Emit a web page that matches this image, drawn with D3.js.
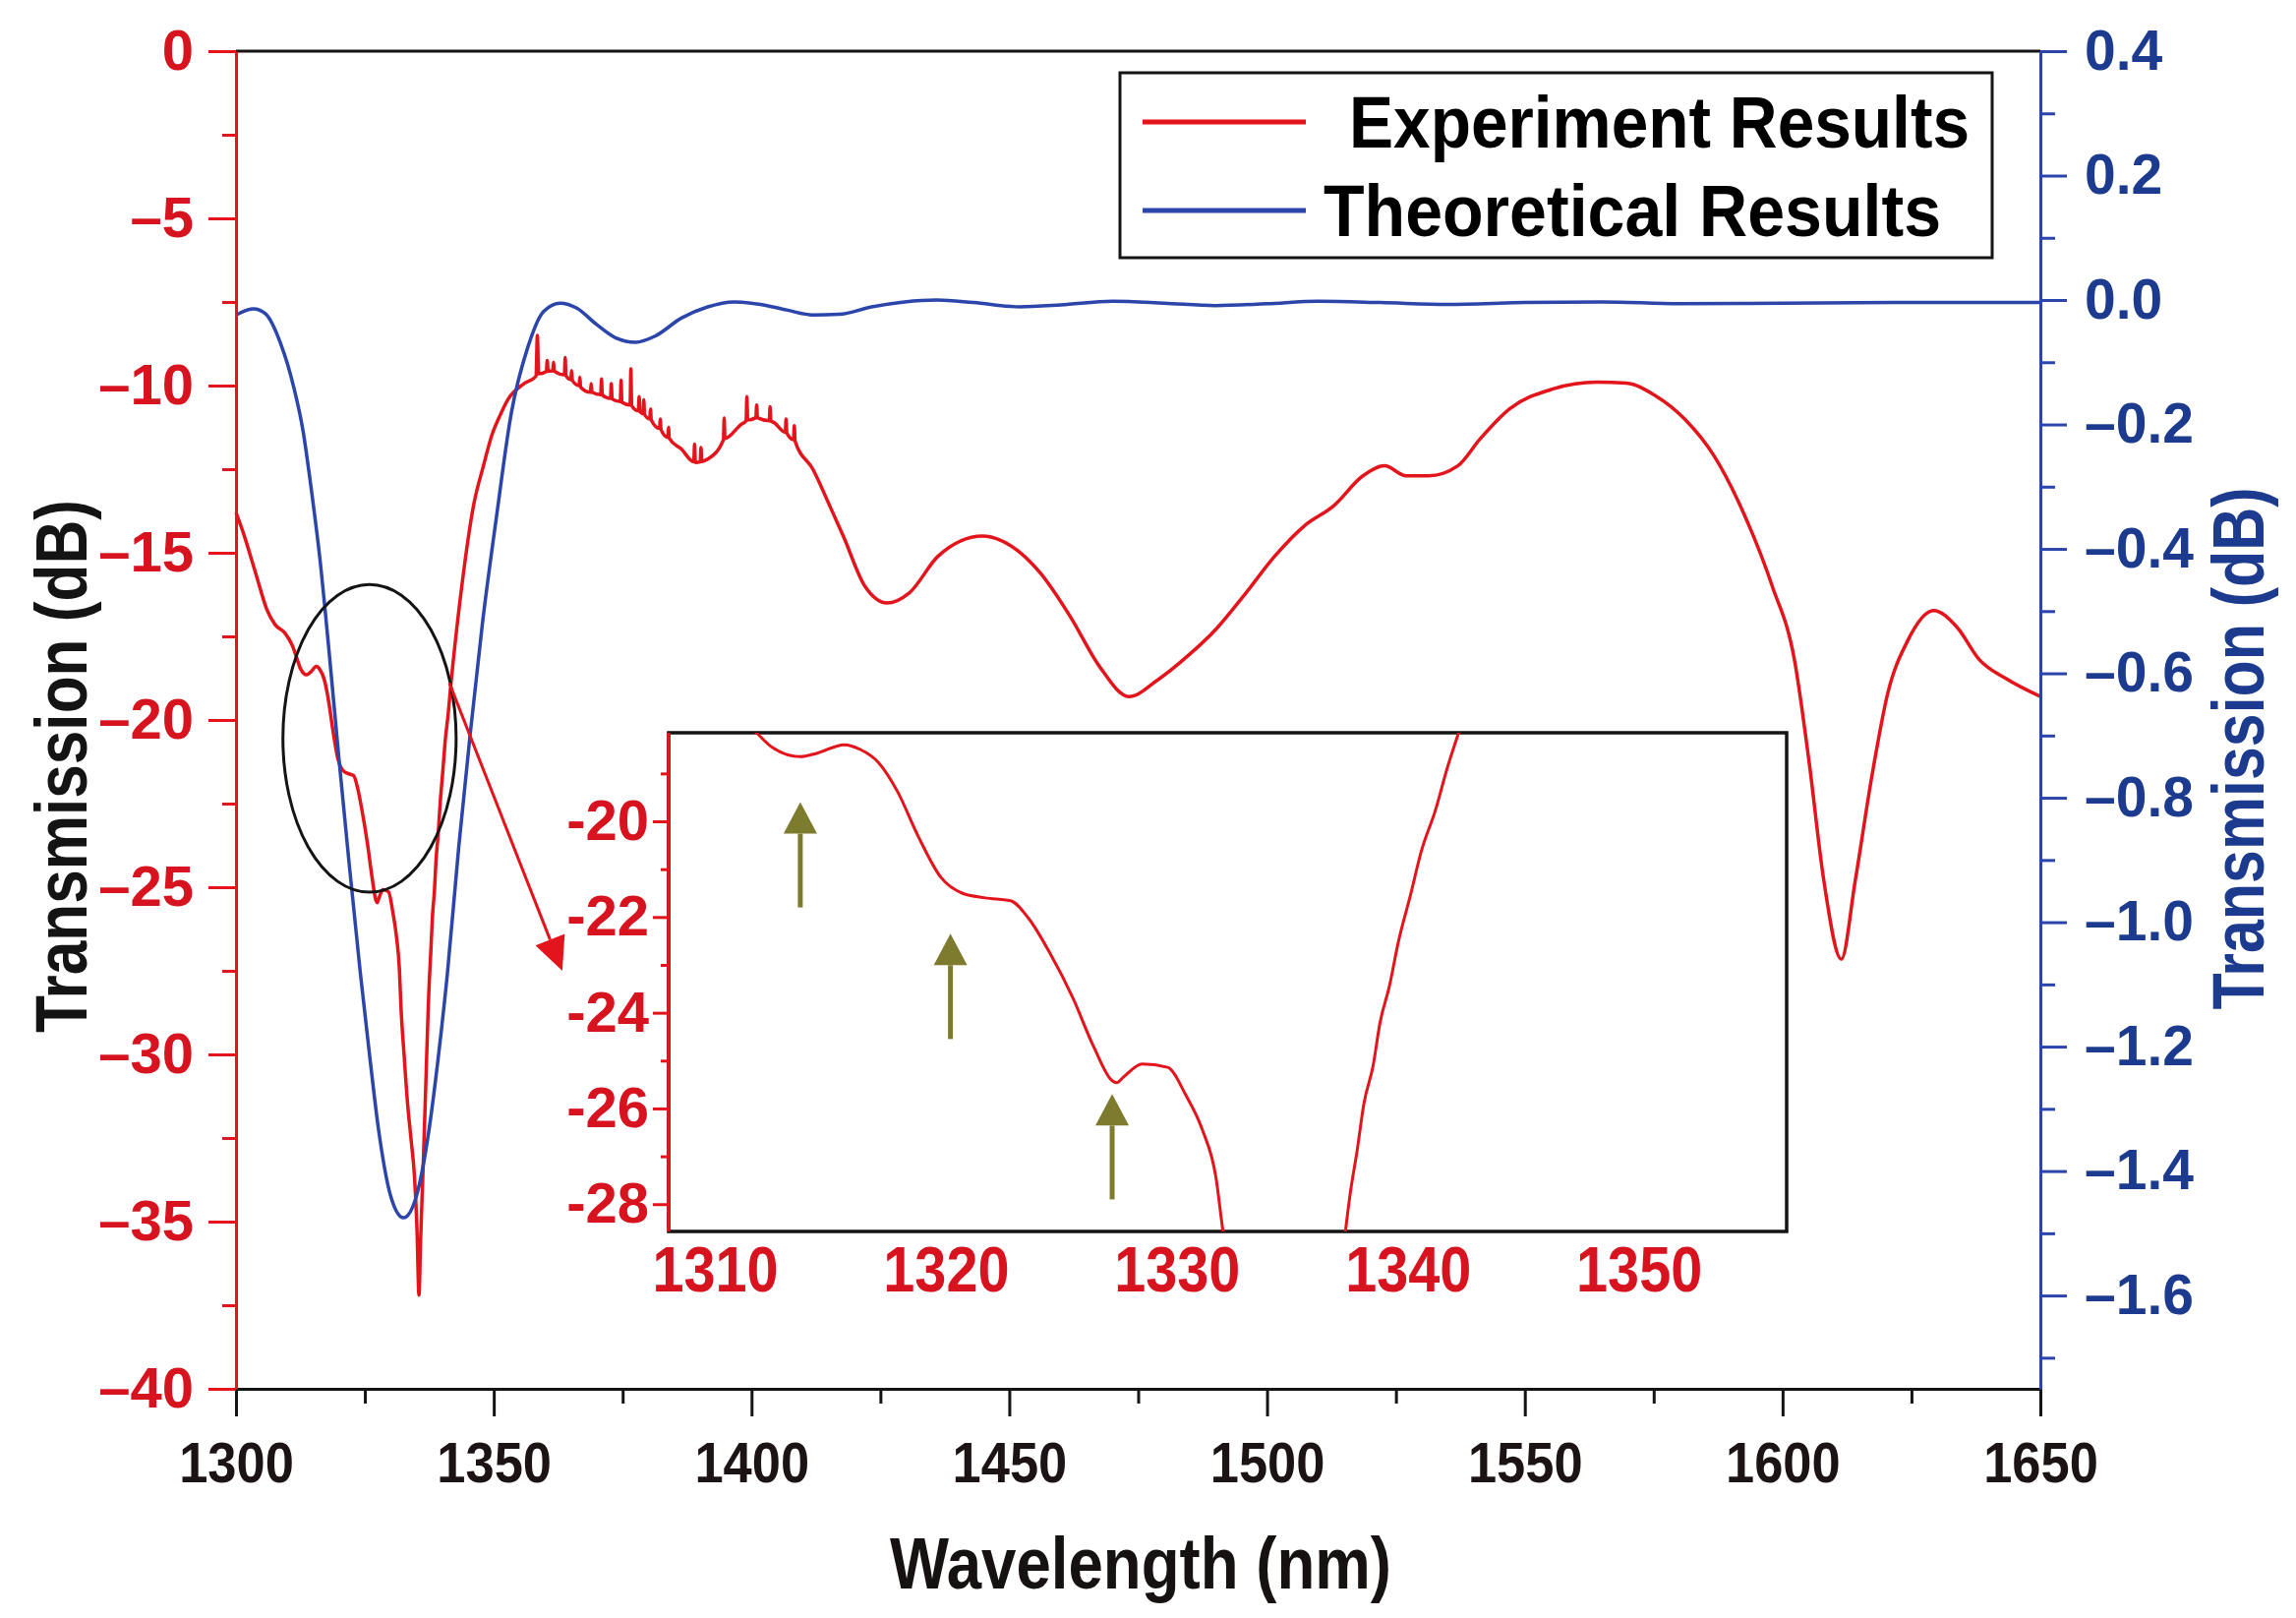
<!DOCTYPE html>
<html>
<head>
<meta charset="utf-8">
<script src="https://cdn.jsdelivr.net/npm/d3@7"></script>
<style>
  html, body { margin: 0; padding: 0; background: #fff; }
  svg text { font-family: 'Liberation Sans', Arial, Helvetica, sans-serif; font-weight: bold; }
</style>
</head>
<body>
<div id="chart"></div>
<script>
// experiment (red, left axis)
const expWavelength = [1300, 1301.3, 1303.8, 1306.0, 1307.6, 1309.5, 1311.0, 1311.8, 1312.5, 1313.7,
  1314.4, 1315.6, 1316.3, 1317.1, 1317.9, 1318.8, 1319.8, 1320.7, 1321.7, 1322.8,
  1323.6, 1324.5, 1325.5, 1326.4, 1327.2, 1327.4, 1327.7, 1328.5, 1329.6, 1330.4,
  1331.1, 1331.7, 1332.0, 1332.6, 1333.3, 1334.0, 1334.6, 1335.1, 1335.5, 1335.8,
  1336.3, 1336.8, 1337.3, 1337.5, 1337.8, 1338.1, 1338.5, 1338.8, 1339.2, 1339.6,
  1340.1, 1340.6, 1341.2, 1341.7, 1342.2, 1343.8, 1346.1, 1348.0, 1349.6, 1351.2,
  1352.7, 1355.9, 1358.2, 1358.46, 1358.7, 1360.2, 1360.37, 1360.55, 1361.45, 1361.6,
  1361.75, 1363.7, 1363.86, 1364.0, 1364.95, 1365.1, 1365.25, 1366.55, 1366.7, 1366.85,
  1368.75, 1368.9, 1369.05, 1370.75, 1370.9, 1371.05, 1372.65, 1372.8, 1372.95, 1374.55,
  1374.7, 1374.85, 1376.45, 1376.6, 1376.75, 1378.05, 1378.2, 1378.35, 1378.95, 1379.1,
  1379.25, 1380.25, 1380.4, 1380.55, 1382.15, 1382.3, 1382.45, 1383.75, 1383.9, 1384.05,
  1386.4, 1388.8, 1388.96, 1389.1, 1390.05, 1390.2, 1390.35, 1391.5, 1394.55, 1394.7,
  1394.85, 1397.9, 1398.95, 1399.1, 1399.25, 1400.85, 1401.0, 1401.15, 1403.45, 1403.6,
  1403.75, 1404.3, 1406.55, 1406.7, 1406.85, 1408.15, 1408.3, 1408.45, 1411.9, 1415.1,
  1417.8, 1422.0, 1426.3, 1430.6, 1436.2, 1444.8, 1450.4, 1456.0, 1461.8, 1467.5,
  1473.2, 1478.8, 1484.5, 1490.0, 1495.9, 1501.5, 1507.2, 1512.9, 1518.6, 1522.8,
  1527.0, 1531.3, 1537.0, 1541.3, 1547.0, 1555.5, 1564.0, 1569.7, 1575.3, 1581.0,
  1586.7, 1592.4, 1598.0, 1602.3, 1605.1, 1608.0, 1611.4, 1614.1, 1617.3, 1620.4,
  1624.2, 1629.3, 1633.8, 1638.2, 1643.3, 1650.0]
const expTransmission = [-13.8, -14.35, -15.6, -16.7, -17.15, -17.4, -17.8, -18.15, -18.46, -18.65,
  -18.58, -18.4, -18.5, -18.78, -19.37, -20.31, -21.18, -21.5, -21.6, -21.66,
  -22.04, -22.75, -23.69, -24.71, -25.42, -25.46, -25.34, -25.07, -25.14, -25.73,
  -26.44, -27.46, -28.57, -30.0, -31.5, -32.6, -33.6, -35.2, -37.2, -35.6,
  -33.4, -31.0, -28.57, -27.8, -26.9, -25.9, -25.1, -24.2, -23.45, -22.5,
  -21.57, -20.6, -19.76, -18.9, -18.15, -16.0, -13.57, -12.4, -11.5, -10.9,
  -10.43, -9.94, -9.72, -8.5, -9.65, -9.58, -9.25, -9.57, -9.56, -9.3,
  -9.57, -9.68, -9.16, -9.7, -9.82, -9.55, -9.85, -10.0, -9.75, -10.05,
  -10.2, -9.94, -10.2, -10.27, -9.8, -10.28, -10.38, -9.94, -10.4, -10.48,
  -9.84, -10.5, -10.58, -9.5, -10.6, -10.76, -10.33, -10.78, -10.84, -10.43,
  -10.86, -11.0, -10.7, -11.03, -11.28, -11.0, -11.32, -11.55, -11.25, -11.58,
  -11.9, -12.28, -11.75, -12.3, -12.28, -11.85, -12.27, -12.2, -11.62, -10.97,
  -11.58, -11.17, -11.05, -10.33, -11.03, -10.96, -10.58, -10.96, -11.05, -10.63,
  -11.06, -11.1, -11.4, -11.0, -11.42, -11.62, -11.2, -11.66, -12.5, -13.57,
  -14.5, -16.0, -16.5, -16.2, -15.1, -14.5, -14.8, -15.6, -16.9, -18.4,
  -19.3, -18.8, -18.1, -17.3, -16.2, -15.1, -14.2, -13.6, -12.7, -12.4,
  -12.7, -12.7, -12.4, -11.6, -10.7, -10.1, -9.9, -9.93, -10.3, -11.0,
  -12.1, -13.8, -16.0, -18.2, -21.2, -24.8, -27.15, -24.8, -21.7, -19.2,
  -17.65, -16.73, -17.22, -18.2, -18.76, -19.3]

// theory (blue, right axis)
const theoWavelength = [1300, 1303.4, 1305.7, 1308.7, 1311.2, 1313.0, 1314.7, 1316.2, 1318.0, 1320.0,
  1322.0, 1324.1, 1326.0, 1327.7, 1330.0, 1332.5, 1335.0, 1337.4, 1339.2, 1341.0,
  1343.2, 1345.4, 1347.8, 1350.5, 1353.4, 1356.6, 1359.7, 1362.9, 1366.1, 1369.9,
  1373.7, 1377.5, 1381.3, 1386.4, 1391.5, 1396.6, 1401.7, 1406.8, 1411.9, 1417.0,
  1423.3, 1429.7, 1436.0, 1443.0, 1452.0, 1460.0, 1470.0, 1480.0, 1490.0, 1500.0,
  1510.0, 1522.0, 1535.0, 1550.0, 1565.0, 1580.0, 1600.0, 1625.0, 1650.0]
const theoTransmission = [-0.024, -0.014, -0.022, -0.071, -0.14, -0.21, -0.31, -0.41, -0.56, -0.74,
  -0.91, -1.08, -1.22, -1.336, -1.44, -1.475, -1.44, -1.336, -1.22, -1.083,
  -0.88, -0.70, -0.52, -0.35, -0.182, -0.076, -0.018, -0.005, -0.013, -0.039,
  -0.061, -0.068, -0.058, -0.029, -0.011, -0.003, -0.007, -0.016, -0.024, -0.023,
  -0.011, -0.003, 0.0, -0.004, -0.011, -0.008, -0.002, -0.005, -0.009, -0.006,
  -0.002, -0.004, -0.007, -0.004, -0.003, -0.006, -0.005, -0.004, -0.004]

const xTicks = [1300, 1350, 1400, 1450, 1500, 1550, 1600, 1650]
const xMinorTicks = [1325, 1375, 1425, 1475, 1525, 1575, 1625]
const leftTicks = [0, -5, -10, -15, -20, -25, -30, -35, -40]
const leftMinorTicks = [-2.5, -7.5, -12.5, -17.5, -22.5, -27.5, -32.5, -37.5]
const rightTicks = [0.4, 0.2, 0.0, -0.2, -0.4, -0.6, -0.8, -1.0, -1.2, -1.4, -1.6]
const rightMinorTicks = [0.3, 0.1, -0.1, -0.3, -0.5, -0.7, -0.9, -1.1, -1.3, -1.5, -1.7]
const insetXTicks = [1310, 1320, 1330, 1340, 1350]
const insetYTicks = [-20, -22, -24, -26, -28]
const insetYMinorTicks = [-19, -21, -23, -25, -27]
const legendLabels = ['Experiment Results', 'Theoretical Results']

// olive arrows in the inset
const arrowWavelength = [1313.7, 1320.2, 1327.2]
const arrowTip = [-19.6, -22.35, -25.7]
const arrowTail = [-21.8, -24.55, -27.9]

const W = 2335
const H = 1645
const plot = {left: 240, right: 2075, top: 52, bottom: 1412}
const box = {left: 680, right: 1817, top: 745, bottom: 1252}
const RED = '#e3141b'
const RED_TEXT = '#d6131e'
const BLUE = '#2b45ab'
const BLUE_TEXT = '#1d3b8e'
const OLIVE = '#7d7b2d'
const BLACK = '#141414'

const svg = d3.select('#chart').append('svg')
  .attr('width', W)
  .attr('height', H)

const x = d3.scaleLinear().domain([1300, 1650]).range([plot.left, plot.right])
const yL = d3.scaleLinear().domain([-40, 0]).range([plot.bottom, plot.top])
const yR = d3.scaleLinear().domain([-1.75, 0.4]).range([plot.bottom, plot.top])
const xI = d3.scaleLinear().domain([1308, 1356.4]).range([box.left, box.right])
const yI = d3.scaleLinear().domain([-28.57, -18.15]).range([box.bottom, box.top])

const dashFmt = f => v => (v < 0 ? '\u2013' : '') + f(Math.abs(v))

function squeeze (sel, k) {
  sel.each(function () {
    let w = this.getComputedTextLength()
    d3.select(this).attr('textLength', w * k).attr('lengthAdjust', 'spacingAndGlyphs')
  })
}

function drawAxis (axis, tx, ty, color, size) {
  let g = svg.append('g')
    .attr('transform', `translate(${tx},${ty})`)
    .call(axis)
    .attr('font-family', null)
    .attr('font-size', null)
  g.select('.domain').attr('stroke', color).attr('stroke-width', 3)
  g.selectAll('.tick line').attr('stroke', color).attr('stroke-width', 3)
  g.selectAll('.tick text').attr('fill', color).style('font-size', size + 'px')
  return g
}

function minor (axis, tx, ty, color) {
  let g = drawAxis(axis.tickFormat(''), tx, ty, color, 10)
  g.select('.domain').remove()
}

// ---- curves
const expPoints = expWavelength.map((d, i) => [d, expTransmission[i]])
const theoPoints = theoWavelength.map((d, i) => [d, theoTransmission[i]])

svg.append('path')
  .datum(expPoints)
  .attr('fill', 'none')
  .attr('stroke', RED)
  .attr('stroke-width', 3.5)
  .attr('stroke-linejoin', 'round')
  .attr('d', d3.line().x(d => x(d[0])).y(d => yL(d[1])).curve(d3.curveMonotoneX))

svg.append('path')
  .datum(theoPoints)
  .attr('fill', 'none')
  .attr('stroke', BLUE)
  .attr('stroke-width', 3.5)
  .attr('d', d3.line().x(d => x(d[0])).y(d => yR(d[1])).curve(d3.curveMonotoneX))

// ---- main axes
svg.append('line')
  .attr('x1', plot.left).attr('x2', plot.right)
  .attr('y1', plot.top).attr('y2', plot.top)
  .attr('stroke', BLACK).attr('stroke-width', 3)

let xg = drawAxis(d3.axisBottom(x).tickValues(xTicks).tickSize(28).tickSizeOuter(0).tickPadding(27)
  .tickFormat(d3.format('d')), 0, plot.bottom, BLACK, 57)
minor(d3.axisBottom(x).tickValues(xMinorTicks).tickSize(15).tickSizeOuter(0), 0, plot.bottom, BLACK)
xg.selectAll('.tick text').attr('fill', '#1c1414')
squeeze(xg.selectAll('.tick text'), 0.92)

let lg = drawAxis(d3.axisLeft(yL).tickValues(leftTicks).tickSize(28).tickSizeOuter(0).tickPadding(15)
  .tickFormat(dashFmt(d3.format('d'))), plot.left, 0, RED_TEXT, 58)
lg.select('.domain').attr('stroke', RED)
lg.selectAll('.tick line').attr('stroke', RED)
minor(d3.axisLeft(yL).tickValues(leftMinorTicks).tickSize(14).tickSizeOuter(0), plot.left, 0, RED)

let rg = drawAxis(d3.axisRight(yR).tickValues(rightTicks).tickSize(27).tickSizeOuter(0).tickPadding(18)
  .tickFormat(dashFmt(d3.format('.1f'))), plot.right, 0, BLUE, 57)
rg.selectAll('.tick text').attr('fill', BLUE_TEXT)
minor(d3.axisRight(yR).tickValues(rightMinorTicks).tickSize(15).tickSizeOuter(0), plot.right, 0, BLUE)

// ---- axis titles
svg.append('text')
  .attr('x', 1160).attr('y', 1615)
  .attr('text-anchor', 'middle')
  .attr('fill', '#161212')
  .attr('textLength', 510).attr('lengthAdjust', 'spacingAndGlyphs')
  .style('font-size', '74px')
  .text('Wavelength (nm)')

svg.append('text')
  .attr('transform', 'translate(88,779) rotate(-90)')
  .attr('text-anchor', 'middle')
  .attr('fill', BLACK)
  .attr('textLength', 542).attr('lengthAdjust', 'spacingAndGlyphs')
  .style('font-size', '74px')
  .text('Transmission (dB)')

svg.append('text')
  .attr('transform', 'translate(2302,761) rotate(-90)')
  .attr('text-anchor', 'middle')
  .attr('fill', BLUE_TEXT)
  .attr('textLength', 531).attr('lengthAdjust', 'spacingAndGlyphs')
  .style('font-size', '74px')
  .text('Transmission (dB)')

// ---- legend
const legend = svg.append('g')
legend.append('rect')
  .attr('x', 1139).attr('y', 74)
  .attr('width', 887).attr('height', 188)
  .attr('fill', '#fff')
  .attr('stroke', BLACK).attr('stroke-width', 3)

const legendRows = [
  {label: legendLabels[0], color: RED, y: 124, tx: 1372, ty: 150, len: 631},
  {label: legendLabels[1], color: BLUE, y: 214, tx: 1346, ty: 240, len: 628}
]
legendRows.forEach(r => {
  legend.append('line')
    .attr('x1', 1162).attr('x2', 1328)
    .attr('y1', r.y).attr('y2', r.y)
    .attr('stroke', r.color).attr('stroke-width', 5)
  legend.append('text')
    .attr('x', r.tx).attr('y', r.ty)
    .attr('fill', '#000')
    .attr('textLength', r.len).attr('lengthAdjust', 'spacingAndGlyphs')
    .style('font-size', '74px')
    .text(r.label)
})

// ---- ellipse and red arrow
svg.append('ellipse')
  .attr('cx', x(1325.9)).attr('cy', yL(-20.55))
  .attr('rx', x(1325.9 + 16.8) - x(1325.9))
  .attr('ry', yL(-20.55) - yL(-20.55 + 4.6))
  .attr('fill', 'none')
  .attr('stroke', BLACK).attr('stroke-width', 3)

function arrow (x1, y1, x2, y2, color, width, headLen, headW) {
  let a = Math.atan2(y2 - y1, x2 - x1)
  let bx = x2 - headLen * Math.cos(a)
  let by = y2 - headLen * Math.sin(a)
  svg.append('line')
    .attr('x1', x1).attr('y1', y1).attr('x2', bx).attr('y2', by)
    .attr('stroke', color).attr('stroke-width', width)
  let px = Math.sin(a) * headW / 2
  let py = -Math.cos(a) * headW / 2
  svg.append('path')
    .attr('d', `M${x2},${y2}L${bx + px},${by + py}L${bx - px},${by - py}Z`)
    .attr('fill', color)
}

arrow(x(1341.4), yL(-18.9), x(1363.3), yL(-27.5), RED, 3, 34, 32)

// ---- inset
const inset = svg.append('g')
svg.append('clipPath').attr('id', 'insetClip')
  .append('rect')
  .attr('x', box.left).attr('y', box.top)
  .attr('width', box.right - box.left).attr('height', box.bottom - box.top)

inset.append('rect')
  .attr('x', box.left).attr('y', box.top)
  .attr('width', box.right - box.left).attr('height', box.bottom - box.top)
  .attr('fill', '#fff')
  .attr('stroke', BLACK).attr('stroke-width', 3.5)

inset.append('path')
  .datum(expPoints)
  .attr('clip-path', 'url(#insetClip)')
  .attr('fill', 'none')
  .attr('stroke', RED)
  .attr('stroke-width', 3)
  .attr('d', d3.line().x(d => xI(d[0])).y(d => yI(d[1])).curve(d3.curveMonotoneX))

let ig = drawAxis(d3.axisLeft(yI).tickValues(insetYTicks).tickSize(16).tickSizeOuter(0).tickPadding(4)
  .tickFormat(d => String(d)), box.left, 0, RED_TEXT, 58)
ig.select('.domain').attr('stroke', RED).attr('stroke-width', 3.5)
  .attr('d', `M0,${box.top}V${box.bottom}`)
ig.selectAll('.tick line').attr('stroke', RED)
minor(d3.axisLeft(yI).tickValues(insetYMinorTicks).tickSize(8).tickSizeOuter(0), box.left, 0, RED)

let ixg = drawAxis(d3.axisBottom(xI).tickValues(insetXTicks).tickSize(0).tickSizeOuter(0).tickPadding(16)
  .tickFormat(d3.format('d')), 0, box.bottom, RED_TEXT, 64)
ixg.select('.domain').remove()
squeeze(ixg.selectAll('.tick text'), 0.9)

arrowWavelength.forEach((w, i) => {
  arrow(xI(w), yI(arrowTail[i]), xI(w), yI(arrowTip[i]), OLIVE, 5, 32, 34)
})
</script>
</body>
</html>
